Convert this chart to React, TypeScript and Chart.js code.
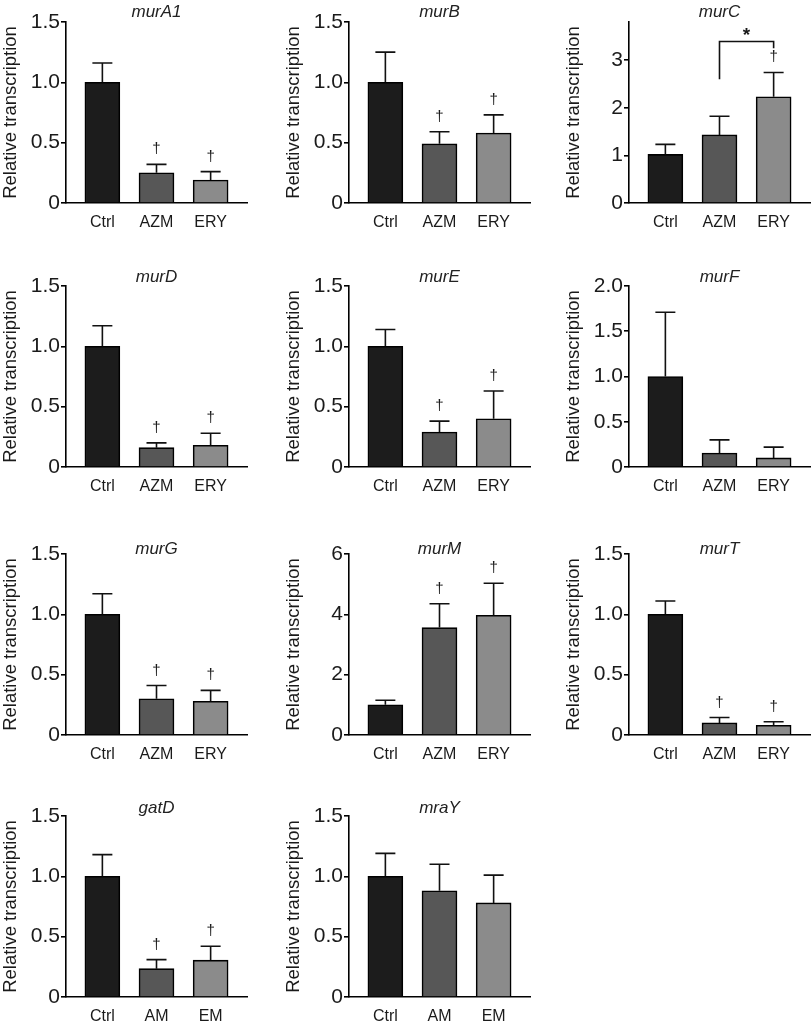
import React, { useEffect, useRef } from 'react';
import { Chart, registerables } from 'chart.js';

Chart.register(...registerables);

// ---------- data ----------
const geneNames = ['murA1', 'murB', 'murC', 'murD', 'murE', 'murF', 'murG', 'murM', 'murT', 'gatD', 'mraY'];
const groupsMacrolide = ['Ctrl', 'AZM', 'ERY'];
const groupsShort = ['Ctrl', 'AM', 'EM'];

const murA1Mean = [1.0, 0.25, 0.19];
const murA1Sd = [0.16, 0.07, 0.07];
const murBMean = [1.0, 0.49, 0.58];
const murBSd = [0.25, 0.1, 0.15];
const murCMean = [1.02, 1.43, 2.23];
const murCSd = [0.21, 0.39, 0.51];
const murDMean = [1.0, 0.16, 0.18];
const murDSd = [0.17, 0.04, 0.1];
const murEMean = [1.0, 0.29, 0.4];
const murESd = [0.14, 0.09, 0.23];
const murFMean = [1.0, 0.155, 0.1];
const murFSd = [0.71, 0.145, 0.12];
const murGMean = [1.0, 0.3, 0.28];
const murGSd = [0.17, 0.11, 0.09];
const murMMean = [1.0, 3.56, 3.97];
const murMSd = [0.15, 0.79, 1.06];
const murTMean = [1.0, 0.1, 0.08];
const murTSd = [0.11, 0.045, 0.03];
const gatDMean = [1.0, 0.235, 0.305];
const gatDSd = [0.18, 0.075, 0.115];
const mraYMean = [1.0, 0.88, 0.78];
const mraYSd = [0.19, 0.22, 0.23];

// dagger (†) = significant vs Ctrl
const murA1Sig = [false, true, true];
const murBSig = [false, true, true];
const murCSig = [false, false, true];
const murDSig = [false, true, true];
const murESig = [false, true, true];
const murFSig = [false, false, false];
const murGSig = [false, true, true];
const murMSig = [false, true, true];
const murTSig = [false, true, true];
const gatDSig = [false, true, true];
const mraYSig = [false, false, false];

// y-axis ranges
const yMaxes = [1.5, 1.5, 3.8, 1.5, 1.5, 2.0, 1.5, 6, 1.5, 1.5, 1.5];
const ySteps = [0.5, 0.5, 1, 0.5, 0.5, 0.5, 0.5, 2, 0.5, 0.5, 0.5];

// murC significance bracket (AZM vs ERY)
const murCBracketGroups = [1, 2];
const murCBracketLevel = 3.39;
const murCBracketDrops = [2.6, 3.25];

const allMeans = [murA1Mean, murBMean, murCMean, murDMean, murEMean, murFMean, murGMean, murMMean, murTMean, gatDMean, mraYMean];
const allSds = [murA1Sd, murBSd, murCSd, murDSd, murESd, murFSd, murGSd, murMSd, murTSd, gatDSd, mraYSd];
const allSig = [murA1Sig, murBSig, murCSig, murDSig, murESig, murFSig, murGSig, murMSig, murTSig, gatDSig, mraYSig];

// ---------- styling / layout ----------
const BAR_COLORS = ['#1c1c1c', '#575757', '#8b8b8b'];
const FONT = '"Liberation Sans", Arial, Helvetica, sans-serif';
const TEXT = '#1a1a1a';
const COL_AXIS_X = [66, 349, 629];
const ROW_TOP = [22, 286, 554, 816];
const TITLE_DY = [-9.5, -8.5, -5, -7.5];
const PLOT_W = 181;
const PLOT_H = 181;
const Y_AXIS_W = 66;
const PAD_TOP = 22;
const X_AXIS_H = 40;
const CANVAS_W = Y_AXIS_W + PLOT_W + 1;
const CANVAS_H = PAD_TOP + PLOT_H + X_AXIS_H;

type PanelDef = {
  gene: string;
  groups: string[];
  mean: number[];
  sd: number[];
  sig: boolean[];
  yMax: number;
  yStep: number;
  row: number;
  col: number;
};

const panels: PanelDef[] = geneNames.map((gene, i) => ({
  gene,
  groups: gene === 'gatD' || gene === 'mraY' ? groupsShort : groupsMacrolide,
  mean: allMeans[i],
  sd: allSds[i],
  sig: allSig[i],
  yMax: yMaxes[i],
  yStep: ySteps[i],
  row: Math.floor(i / 3),
  col: i % 3,
}));

function makeAnnotations(p: PanelDef) {
  return {
    id: 'annot_' + p.gene,
    afterDatasetsDraw(chart: any) {
      const { ctx, chartArea, scales } = chart;
      const x = scales.x;
      const y = scales.y;
      ctx.save();
      ctx.strokeStyle = '#111';
      ctx.fillStyle = TEXT;
      ctx.lineWidth = 1.6;
      p.mean.forEach((m, i) => {
        const cx = x.getPixelForValue(i);
        const yTop = y.getPixelForValue(m);
        const yErr = y.getPixelForValue(m + p.sd[i]);
        ctx.beginPath();
        ctx.moveTo(cx, yTop);
        ctx.lineTo(cx, yErr);
        ctx.moveTo(cx - 10, yErr);
        ctx.lineTo(cx + 10, yErr);
        ctx.stroke();
        if (p.sig[i]) {
          ctx.font = `15px ${FONT}`;
          ctx.textAlign = 'center';
          ctx.textBaseline = 'alphabetic';
          ctx.fillText('\u2020', cx, yErr - 15 + 4);
        }
      });
      if (p.gene === 'murC') {
        const xl = x.getPixelForValue(murCBracketGroups[0]);
        const xr = x.getPixelForValue(murCBracketGroups[1]);
        const yl = y.getPixelForValue(murCBracketLevel);
        ctx.beginPath();
        ctx.moveTo(xl, y.getPixelForValue(murCBracketDrops[0]));
        ctx.lineTo(xl, yl);
        ctx.lineTo(xr, yl);
        ctx.lineTo(xr, y.getPixelForValue(murCBracketDrops[1]));
        ctx.stroke();
        ctx.font = `bold 19px ${FONT}`;
        ctx.textAlign = 'center';
        ctx.textBaseline = 'alphabetic';
        ctx.fillText('*', (xl + xr) / 2, yl - 1);
      }
      ctx.font = `italic 17px ${FONT}`;
      ctx.textAlign = 'center';
      ctx.textBaseline = 'middle';
      ctx.fillStyle = '#222';
      ctx.fillText(p.gene, (chartArea.left + chartArea.right) / 2, chartArea.top + TITLE_DY[p.row]);
      ctx.restore();
    },
  };
}

function Panel({ p }: { p: PanelDef }) {
  const ref = useRef<HTMLCanvasElement | null>(null);
  useEffect(() => {
    if (!ref.current) return;
    const chart = new Chart(ref.current, {
      type: 'bar',
      data: {
        datasets: [
          {
            data: p.mean.map((v, i) => ({ x: i, y: v })),
            backgroundColor: BAR_COLORS,
            borderColor: '#000',
            borderWidth: 1.6,
            barThickness: 35,
          } as any,
        ],
      },
      options: {
        responsive: false,
        animation: false,
        events: [],
        layout: { padding: { top: PAD_TOP, right: 1, left: 0, bottom: 0 } },
        plugins: { legend: { display: false }, tooltip: { enabled: false }, title: { display: false } },
        scales: {
          x: {
            type: 'linear',
            offset: false,
            min: -0.672,
            max: 2.672,
            grid: { display: false },
            border: { display: true, color: '#000', width: 1.6 },
            afterBuildTicks: (s: any) => {
              s.ticks = p.groups.map((_, i) => ({ value: i }));
            },
            afterFit: (s: any) => {
              s.height = X_AXIS_H;
            },
            ticks: {
              autoSkip: false,
              maxRotation: 0,
              padding: 2,
              color: TEXT,
              font: { family: FONT, size: 16 },
              callback: (v: any) => p.groups[Math.round(Number(v))] ?? '',
            },
          },
          y: {
            min: 0,
            max: p.yMax,
            grid: { display: true, drawOnChartArea: false, drawTicks: true, tickLength: 5, color: '#000', lineWidth: 1.6 },
            border: { display: true, color: '#000', width: 1.6 },
            afterFit: (s: any) => {
              s.width = Y_AXIS_W;
            },
            title: {
              display: true,
              text: 'Relative transcription',
              color: TEXT,
              font: { family: FONT, size: 18.5 },
              padding: { top: 0, bottom: 0 },
            },
            ticks: {
              stepSize: p.yStep,
              includeBounds: false,
              padding: 1,
              color: TEXT,
              font: { family: FONT, size: 21 },
              callback: (v: any) => {
                const n = Number(v);
                if (n === 0) return '0';
                return p.yStep < 1 ? n.toFixed(1) : String(n);
              },
            },
          },
        },
      } as any,
      plugins: [makeAnnotations(p)],
    });
    return () => chart.destroy();
  }, [p]);
  const left = COL_AXIS_X[p.col] - Y_AXIS_W;
  const top = ROW_TOP[p.row] - PAD_TOP;
  return (
    <canvas
      ref={ref}
      width={CANVAS_W}
      height={CANVAS_H}
      style={{ position: 'absolute', left, top, width: CANVAS_W, height: CANVAS_H }}
    />
  );
}

export default function App() {
  return (
    <div style={{ position: 'absolute', left: 0, top: 0, width: 812, height: 1024, background: '#fff', overflow: 'hidden' }}>
      {panels.map((p) => (
        <Panel key={p.gene} p={p} />
      ))}
    </div>
  );
}
